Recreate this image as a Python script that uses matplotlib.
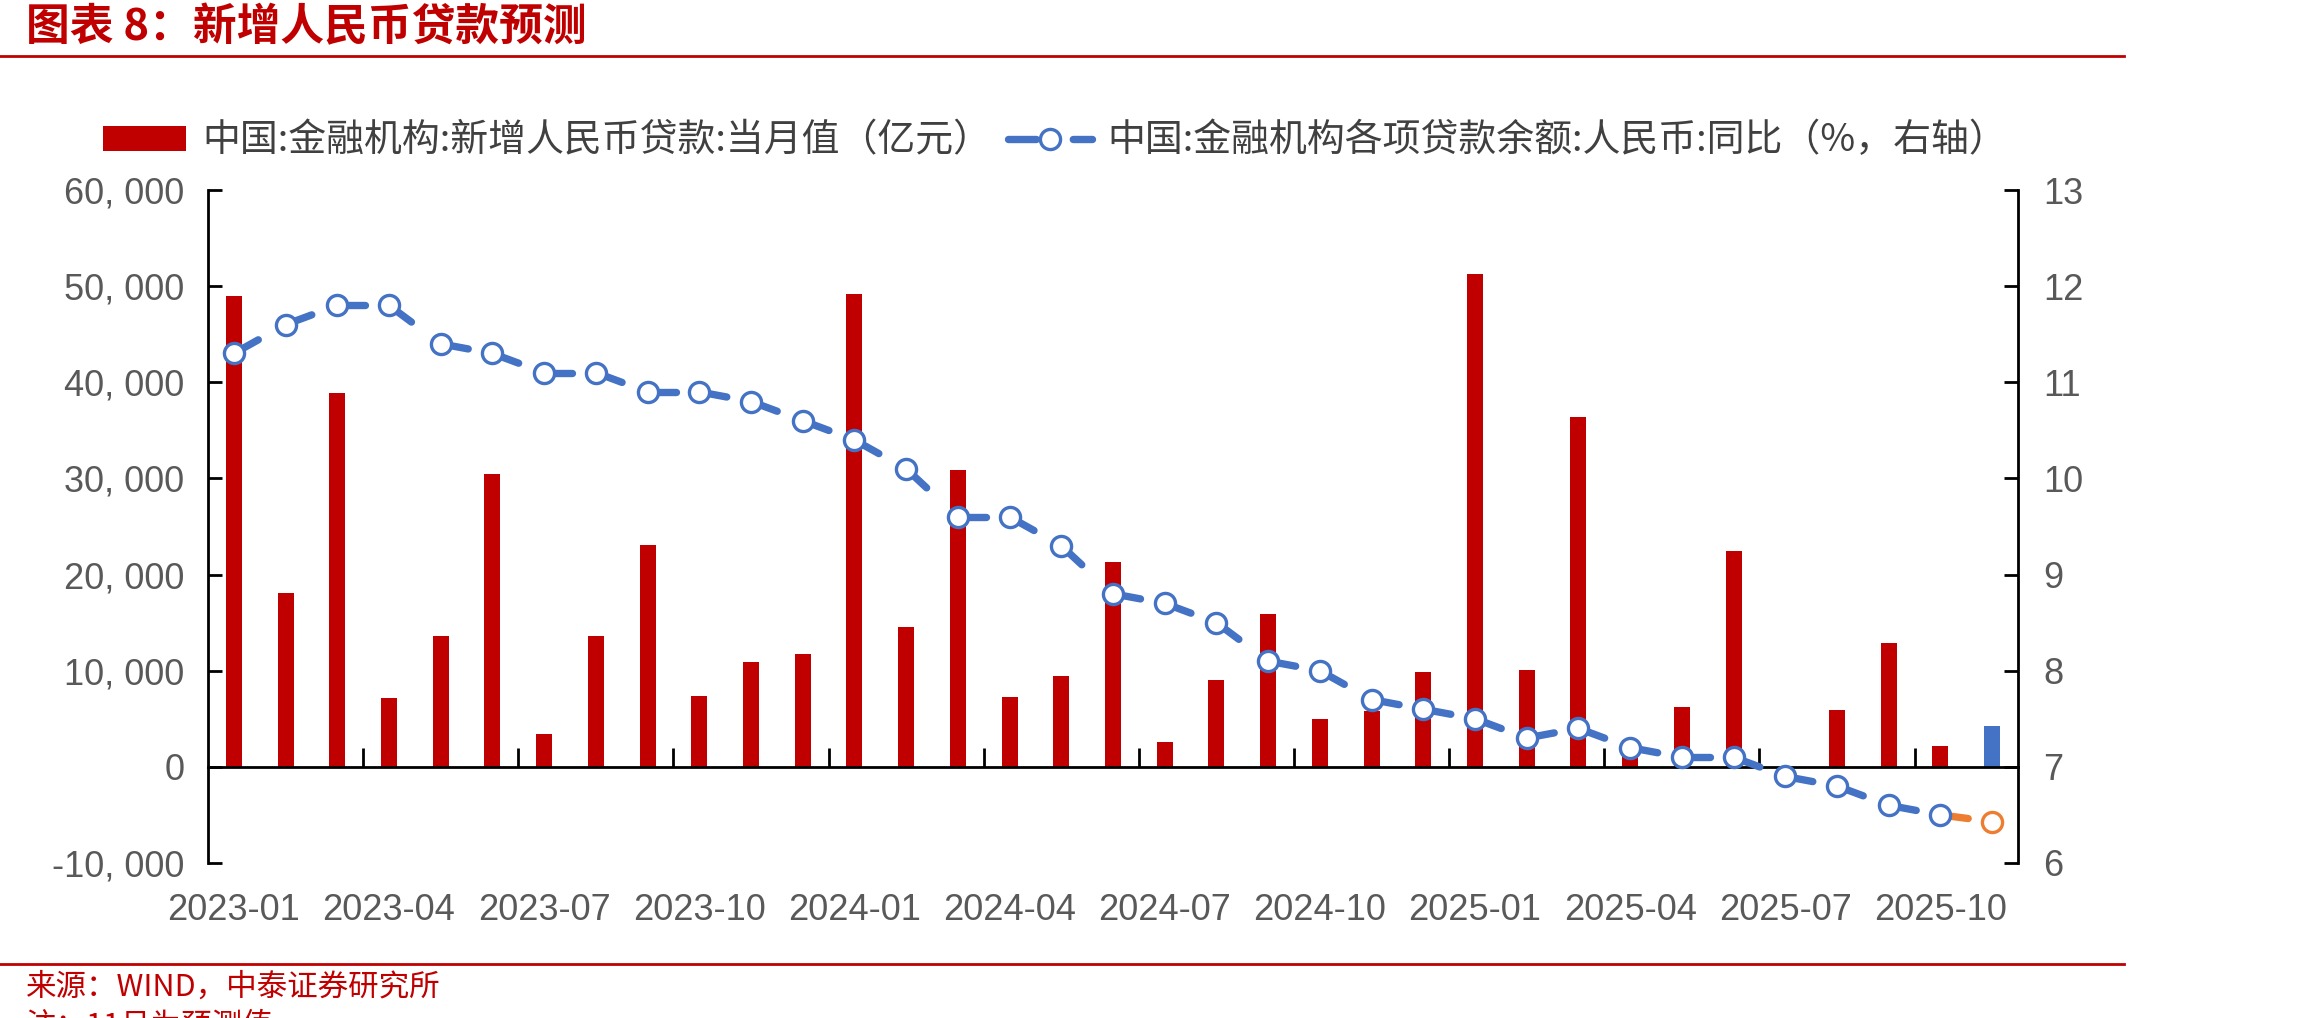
import numpy as np
import matplotlib
matplotlib.use("Agg")
import matplotlib.pyplot as plt
from matplotlib.patches import Patch
from matplotlib.lines import Line2D
from matplotlib.ticker import FuncFormatter, FixedLocator
import matplotlib.transforms as mtransforms

plt.rcParams['font.family'] = ['Noto Sans CJK SC', 'DejaVu Sans']
NUM_FONT = ['Liberation Sans Narrow', 'Liberation Sans', 'DejaVu Sans']

RED = "#C00000"
BLUE = "#4472C4"
ORANGE = "#ED7D31"
GREY = "#595959"

# monthly data, 2023-01 .. 2025-11 (last month = forecast)
months = [f"{y}-{m:02d}" for y in (2023, 2024, 2025) for m in range(1, 13)][:35]
new_loans = [49000, 18100, 38900, 7188, 13600, 30500, 3459, 13600, 23100, 7384,
             10900, 11700, 49200, 14500, 30900, 7300, 9500, 21300, 2600, 9000,
             15900, 5000, 5800, 9900, 51300, 10100, 36400, 2800, 6200, 22400,
             -500, 5900, 12900, 2200, 4300]
loan_yoy = [11.3, 11.6, 11.8, 11.8, 11.4, 11.3, 11.1, 11.1, 10.9, 10.9,
            10.8, 10.6, 10.4, 10.1, 9.6, 9.6, 9.3, 8.8, 8.7, 8.5,
            8.1, 8.0, 7.7, 7.6, 7.5, 7.3, 7.4, 7.2, 7.1, 7.1,
            6.9, 6.8, 6.6, 6.5, 6.43]
forecast = [False] * 34 + [True]

label_bar = "中国:金融机构:新增人民币贷款:当月值（亿元）"
label_line = "中国:金融机构各项贷款余额:人民币:同比（%，右轴）"

x = np.arange(len(months))
W, H = 2302, 1018
fig = plt.figure(figsize=(W / 100, H / 100), dpi=100)
ax = fig.add_axes([208 / W, 1 - 863 / H, (2018 - 208) / W, (863 - 190) / H])
ax2 = ax.twinx()

bar_cols = [BLUE if f else RED for f in forecast]
ax.bar(x, new_loans, width=0.31, color=bar_cols, zorder=2)

# dashed connector per segment, restarting at every point
for i in range(len(x) - 1):
    c = ORANGE if forecast[i + 1] else BLUE
    ax2.plot(x[i:i + 2], loan_yoy[i:i + 2], color=c, lw=5.3,
             linestyle=(0, (3.8, 30)), dash_capstyle='round', zorder=3)
hist = [not f for f in forecast]
ax2.plot(x[hist], np.array(loan_yoy)[hist], ls='none', marker='o', ms=14.5,
         mfc='white', mec=BLUE, mew=2.4, zorder=4)
fc = np.array(forecast)
ax2.plot(x[fc], np.array(loan_yoy)[fc], ls='none', marker='o', ms=14.5,
         mfc='white', mec=ORANGE, mew=2.4, zorder=4)

ax.set_xlim(-0.5, len(x) - 0.5)
ax.set_ylim(-10000, 60000)
ax2.set_ylim(6, 13)
ax.set_yticks(np.arange(-10000, 60001, 10000))
ax2.set_yticks(np.arange(6, 14, 1))
ax.yaxis.set_major_formatter(FuncFormatter(lambda v, p: f"{int(v):,}".replace(",", ", ")))

for a in (ax, ax2):
    a.spines['top'].set_visible(False)
ax2.spines['left'].set_visible(False)
ax2.spines['bottom'].set_visible(False)
ax.spines['right'].set_visible(False)
ax.spines['left'].set_linewidth(2)
ax2.spines['right'].set_linewidth(2)
ax.spines['bottom'].set_position(('data', 0))
ax.spines['bottom'].set_linewidth(2)

ax.tick_params(axis='y', direction='in', length=10, width=2, pad=17,
               labelsize=26, labelcolor=GREY)
ax2.tick_params(axis='y', direction='in', length=10, width=2, pad=18,
                labelsize=26, labelcolor=GREY)
for lab in ax.get_yticklabels() + ax2.get_yticklabels():
    lab.set_family(NUM_FONT)

ax.xaxis.set_major_locator(FixedLocator(np.arange(2.5, len(x) - 1, 3)))
ax.tick_params(axis='x', direction='in', length=14, width=2, labelbottom=False)

trans = mtransforms.blended_transform_factory(ax.transData, ax.transAxes)
for i in range(0, len(x), 3):
    ax.text(x[i], -0.07, months[i], transform=trans, ha='center', va='center',
            fontsize=26, color=GREY, family=NUM_FONT)

h_bar = Patch(facecolor=RED, edgecolor='none')
h_line = Line2D([], [], color=BLUE, lw=5.3, linestyle=(0, (3.8, 5.0)),
                dash_capstyle='round', marker='o', ms=14.5, mfc='white',
                mec=BLUE, mew=2.4)
fig.legend([h_bar, h_line], [label_bar, label_line], ncol=2, frameon=False,
           loc='center left', bbox_to_anchor=(103 / W, 1 - 141 / H),
           borderaxespad=0, borderpad=0, fontsize=27.3, handlelength=2.2,
           handleheight=0.63, handletextpad=0.42, columnspacing=0.45,
           labelcolor='#404040')

# header / footer
fig.text(26 / W, 1 - 27 / H, "图表 8：新增人民币贷款预测", ha='left', va='center',
         fontsize=31.5, fontweight='bold', color=RED)
fig.add_artist(Line2D([0, 2124 / W], [1 - 56 / H] * 2, color=RED, lw=2,
                      transform=fig.transFigure))
fig.add_artist(Line2D([0, 2124 / W], [1 - 964 / H] * 2, color=RED, lw=2,
                      transform=fig.transFigure))
fig.text(26 / W, 1 - 987 / H, "来源：WIND，中泰证券研究所", ha='left', va='center',
         fontsize=22, color=RED)
# note line is clipped by the page edge in the original, only its top shows
fig.text(26 / W, 1 - 1011 / H, "注：11月为预测值", ha='left', va='top',
         fontsize=22, color=RED)

fig.savefig("out.png", dpi=100)
